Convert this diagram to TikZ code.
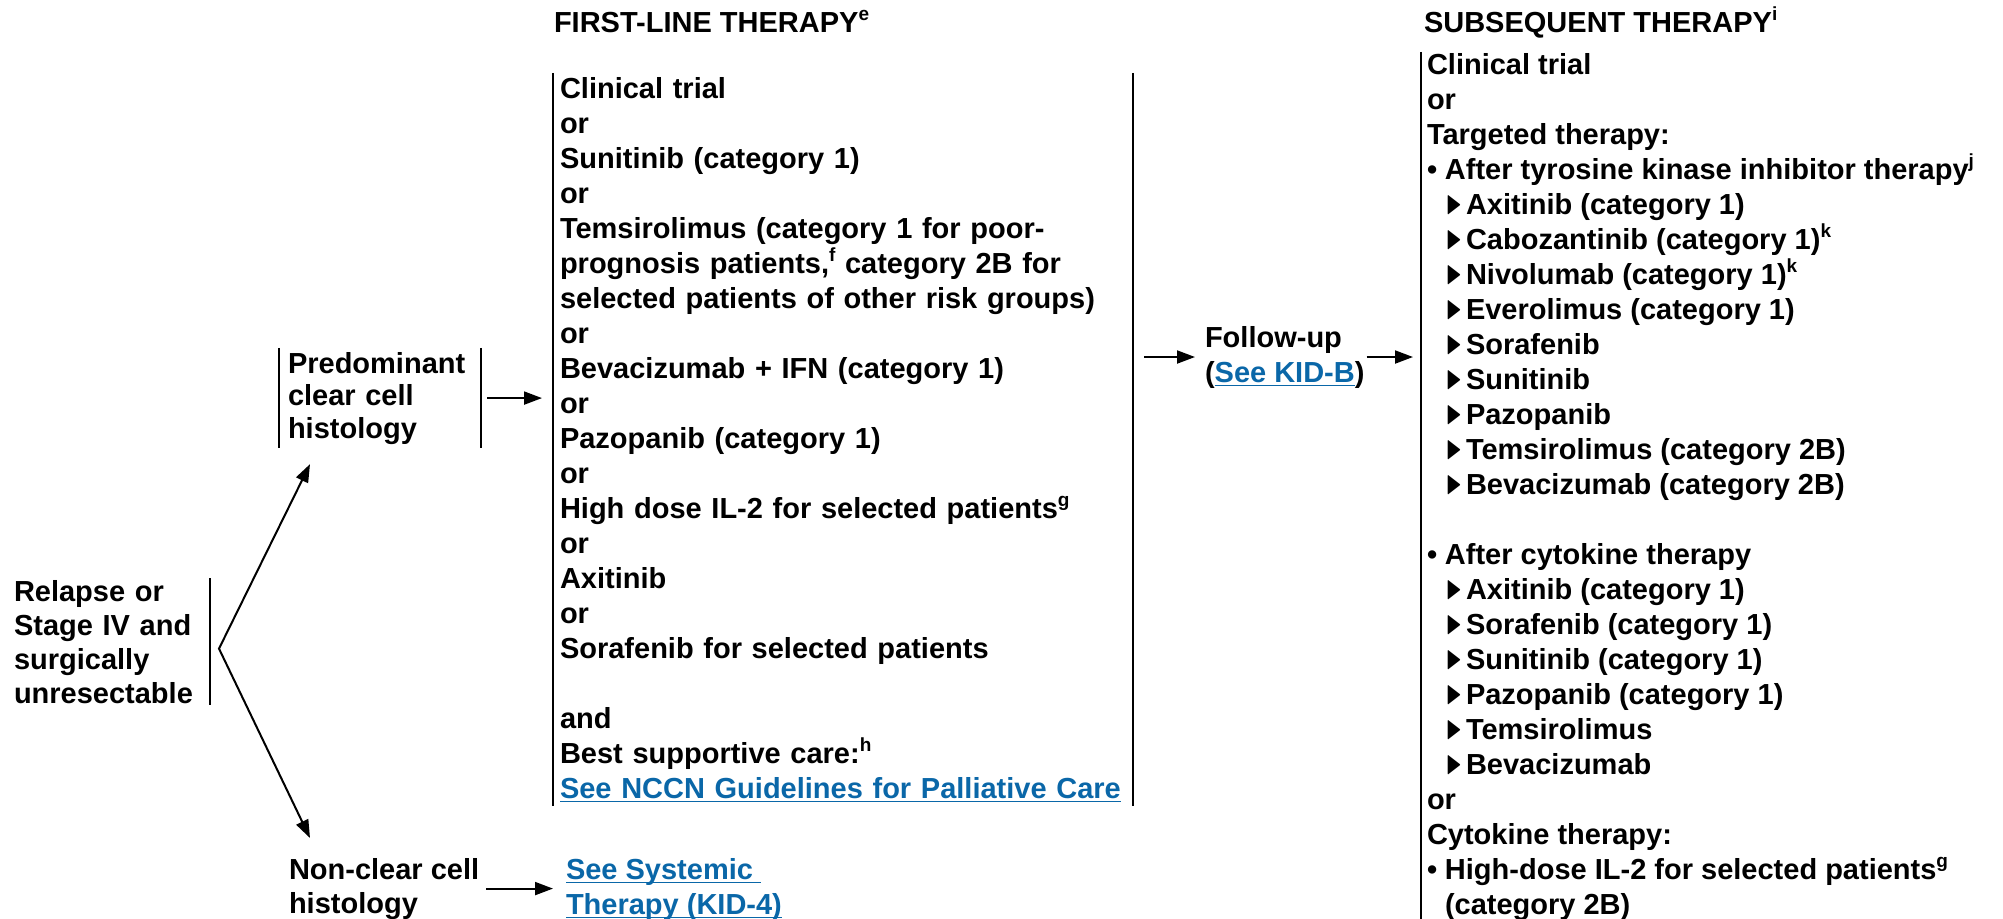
\documentclass[tikz,border=0pt]{standalone}
\usepackage{amssymb}
\usepackage{fontspec}
\setmainfont{Liberation Sans}
\usetikzlibrary{arrows.meta,calc}
\definecolor{link}{HTML}{0A67A8}
\newcommand{\lnk}[1]{\textcolor{link}{\setbox0\hbox{#1}\rlap{\rule[-2.2pt]{\wd0}{0.9pt}}\box0}}
\newcommand{\tri}{\hspace*{9.5pt}\makebox[10pt][l]{\smash{\raisebox{0.4pt}{\scalebox{0.7}[1.15]{$\blacktriangleright$}}}}}
\newcommand{\bul}{\makebox[9pt][l]{•}}
\newcommand{\spr}[1]{\smash{\raisebox{6pt}{\fontsize{9.5}{9.5}\selectfont #1}}}
\begin{document}
\begin{tikzpicture}[x=0.5pt,y=-0.5pt,>={Triangle[length=9pt,width=6.5pt]},line width=1pt,
 blk/.style={anchor=north west,align=left,inner sep=0pt,font=\fontsize{14.5}{17.5}\selectfont\bfseries},
 lbl/.style={blk,font=\fontsize{14.5}{17}\selectfont\bfseries}]
\useasboundingbox (0,0) rectangle (2003,919);
\node[blk,anchor=base west] (head1) at (553,33) {FIRST-LINE THERAPY\spr{e}};
\node[blk,anchor=base west] (head2) at (1423,33) {SUBSEQUENT THERAPY\spr{i}};
\node[lbl,text width=97.5pt,inner ysep=0.5pt] (relapse) at (13,578) {Relapse or\\Stage IV and\\surgically\\unresectable};
\node[blk,font=\fontsize{14.5}{16.25}\selectfont\bfseries,text width=92pt,inner xsep=4pt,inner ysep=1.5pt] (pred) at (279,348) {Predominant\\clear cell\\histology};
\node[lbl] (nonclear) at (288,857) {Non-clear cell\\histology};
\node[blk] (systemic) at (565,857) {\lnk{See Systemic\ }\\\lnk{Therapy (KID-4)}};
\node[blk,text width=283pt,inner xsep=3pt,inner ysep=1.5pt] (first) at (553,73) {Clinical trial\\or\\Sunitinib (category 1)\\or\\Temsirolimus (category 1 for poor-\\prognosis patients,\spr{f} category 2B for\\selected patients of other risk groups)\\or\\Bevacizumab + IFN (category 1)\\or\\Pazopanib (category 1)\\or\\High dose IL-2 for selected patients\spr{g}\\or\\Axitinib\\or\\Sorafenib for selected patients\\[17.5pt]and\\Best supportive care:\spr{h}\\\lnk{See NCCN Guidelines for Palliative Care}};
\node[blk] (followup) at (1204,325) {Follow-up\\(\lnk{See KID-B})};
\node[blk,inner xsep=2.5pt] (sub) at (1421,52) {Clinical trial\\or\\Targeted therapy:\\\bul After tyrosine kinase inhibitor therapy\spr{j}\\\tri Axitinib (category 1)\\\tri Cabozantinib (category 1)\spr{k}\\\tri Nivolumab (category 1)\spr{k}\\\tri Everolimus (category 1)\\\tri Sorafenib\\\tri Sunitinib\\\tri Pazopanib\\\tri Temsirolimus (category 2B)\\\tri Bevacizumab (category 2B)\\[17.5pt]\bul After cytokine therapy\\\tri Axitinib (category 1)\\\tri Sorafenib (category 1)\\\tri Sunitinib (category 1)\\\tri Pazopanib (category 1)\\\tri Temsirolimus\\\tri Bevacizumab\\or\\Cytokine therapy:\\\bul High-dose IL-2 for selected patients\spr{g}\\\hspace*{9pt}(category 2B)};
\draw (relapse.north east) -- (relapse.south east);
\draw (pred.north west) -- (pred.south west) (pred.north east) -- (pred.south east);
\draw (first.north west) -- (first.south west) (first.north east) -- (first.south east);
\draw (sub.north west) -- (sub.south west);
\coordinate (fork) at ($(relapse.east)+(9,7)$);
\draw[<->] ($(pred.south west)+(31,16)$) -- (fork) -- ($(nonclear.north west)+(22,-19)$);
\draw[->,shorten <=3pt,shorten >=5.5pt] (pred.east) -- (pred.east -| first.west);
\draw[->,shorten <=3pt,shorten >=6pt] (nonclear.east) -- (nonclear.east -| systemic.west);
\draw[->,shorten <=5.5pt,shorten >=4.5pt] (first.east |- followup.west) -- (followup.west);
\draw[->,shorten <=0.5pt,shorten >=4pt] (followup.east) -- (followup.east -| sub.west);
\end{tikzpicture}
\end{document}
